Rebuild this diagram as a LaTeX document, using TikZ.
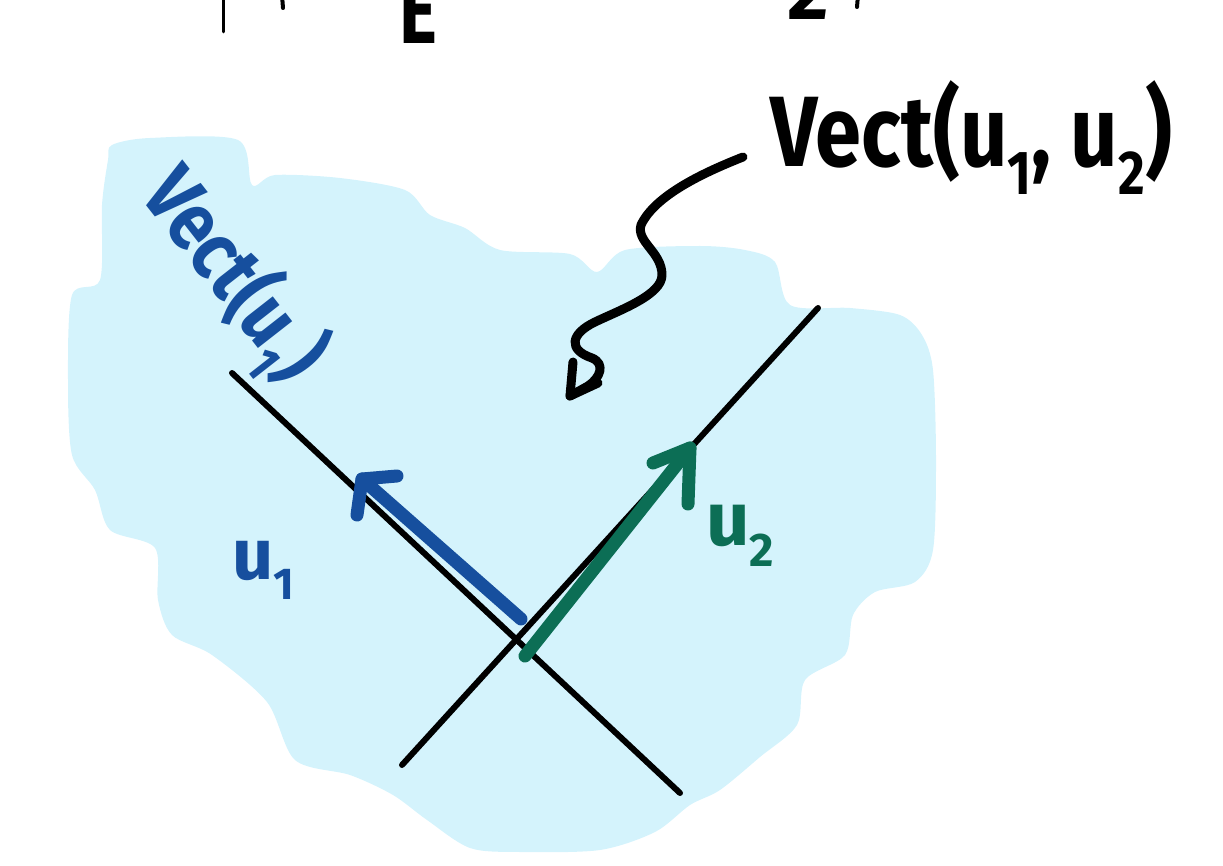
\documentclass[tikz,border=0pt]{standalone}
\usepackage{fontspec}
\setmainfont{Fira Sans}
\usetikzlibrary{calc}
\definecolor{cloudblue}{HTML}{D4F3FC}
\definecolor{penblue}{HTML}{164F9E}
\definecolor{pengreen}{HTML}{0C6E55}
\newcommand\lowsub[1]{\raisebox{-0.28em}{\scalebox{0.62}{#1}}}
\tikzset{
  axisline/.style={line width=6pt, black, line cap=round},
  bluevec/.style={line width=13pt, penblue, line cap=round, line join=round},
  greenvec/.style={line width=13pt, pengreen, line cap=round, line join=round},
  squig/.style={line width=9pt, black, line cap=round, line join=round},
  hand/.style={inner sep=0pt, font=\bfseries},
}
\begin{document}
\begin{tikzpicture}[x=1pt,y=-1pt]
\path[use as bounding box] (0,0) rectangle (1223,866);
% cloud
\fill[cloudblue] plot[smooth cycle, tension=0.5] coordinates {
 (112,145) (150,138) (238,140) (252,185) (275,175) (340,178) (405,190)
 (430,215) (465,228) (500,250) (570,254) (597,272) (625,250) (700,246)
 (745,250) (775,262) (790,305) (850,308) (900,315) (922,335) (933,370)
 (936,460) (933,550) (915,582) (875,592) (853,615) (845,655) (805,680)
 (797,725) (760,757) (720,790) (690,805) (655,832) (600,850) (520,852)
 (470,848) (427,820) (393,795) (350,775) (295,760) (267,702) (212,655)
 (172,635) (158,600) (155,548) (110,530) (95,490) (72,455) (68,380)
 (72,295) (100,280) (102,205) (108,160)};
% top cut-off text fragments
\draw[line width=3pt, line cap=round] (223,-5) -- (223,32);
\draw[line width=4pt, line cap=round] (282,-5) -- (283,8);
\node[hand, anchor=base, font=\bfseries\fontsize{96}{96}\selectfont] (topE) at (418,44) {\scalebox{0.75}[1]{E}};
\node[hand, anchor=base, font=\bfseries\fontsize{80}{80}\selectfont] (top2) at (808,20) {2};
\draw[line width=4pt, line cap=round] (858,-5) -- (857,7);
% axes
\coordinate (A1) at (232,373);
\coordinate (A2) at (680,793);
\coordinate (B1) at (402,765);
\coordinate (B2) at (818,308);
\draw[axisline] (A1) -- (A2);
\draw[axisline] (B1) -- (B2);
% vectors
\coordinate (u1s) at (521,619);
\coordinate (u1t) at (362,479);
\coordinate (u1a) at (397,476);
\coordinate (u1b) at (357,515);
\draw[bluevec] (u1s) -- (u1t);
\draw[bluevec] (u1a) -- (u1t) -- (u1b);
\coordinate (u2s) at (525,656);
\coordinate (u2t) at (690,448);
\coordinate (u2a) at (653,463);
\coordinate (u2b) at (688,504);
\draw[greenvec] (u2s) -- (u2t);
\draw[greenvec] (u2a) -- (u2t) -- (u2b);
% labels
\node[hand, text=penblue, rotate=-52, font=\bfseries\fontsize{82}{82}\selectfont] (vect1) at (232,276) {\scalebox{0.85}[1]{Vect(u\lowsub{1})}};
\node[hand, text=penblue, font=\bfseries\fontsize{72}{72}\selectfont] (lab1) at (263,570) {u\lowsub{1}};
\node[hand, text=pengreen, font=\bfseries\fontsize{76}{76}\selectfont] (lab2) at (740,536) {u\lowsub{2}};
\node[hand, anchor=base west, font=\bfseries\fontsize{100}{100}\selectfont] (vect12) at (770,167) {\scalebox{0.83}[1]{Vect(u\lowsub{1}, u\lowsub{2})}};
% squiggly pointer
\coordinate (sq0) at (743,157);
\coordinate (sqtip) at (570,396);
\draw[squig] (sq0) .. controls (705,172) and (655,195) .. (641,225)
  .. controls (636,242) and (662,252) .. (662,275)
  .. controls (662,295) and (620,310) .. (595,322)
  .. controls (570,334) and (568,350) .. (592,358)
  .. controls (606,364) and (600,378) .. (588,386) -- (sqtip);
\draw[squig] (573,362) -- (sqtip) -- (598,383);
\end{tikzpicture}
\end{document}
